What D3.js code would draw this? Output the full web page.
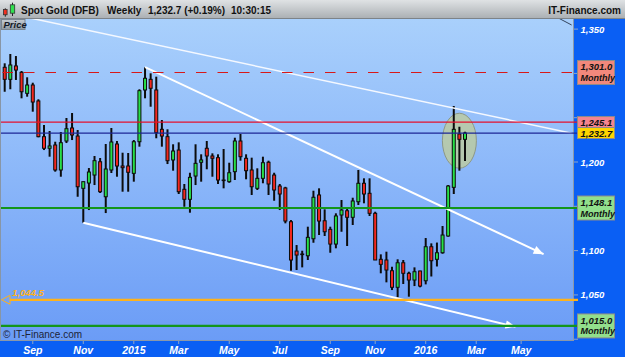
<!DOCTYPE html>
<html>
<head>
<meta charset="utf-8">
<script src="https://cdn.jsdelivr.net/npm/d3@7"></script>
<style>
  html, body { margin: 0; padding: 0; background: #fff; }
  svg { display: block; font-family: "Liberation Sans", Arial, sans-serif; }
</style>
</head>
<body>
<svg id="chart" width="625" height="357"></svg>
<script>
// weekly candles, first bar dated on its Monday
const firstWeek = "2014-07-28";
const opens = [
  1306.9, 1293.3, 1308.4, 1301.2, 1277.5, 1286.9, 1268.9, 1228.6, 1215.5, 1219.2,
  1191.0, 1223.7, 1238.4, 1229.3, 1170.3, 1176.3, 1185.3, 1200.3, 1160.8, 1191.0,
  1220.3, 1195.5, 1195.5, 1187.2, 1222.9, 1281.3, 1293.3, 1281.3, 1236.9, 1228.6,
  1202.3, 1213.5, 1169.2, 1157.9, 1184.2, 1199.7, 1215.5, 1206.8, 1204.9, 1179.7,
  1177.8, 1189.1, 1223.7, 1204.2, 1191.0, 1170.3, 1181.6, 1199.7, 1185.3, 1172.9,
  1170.7, 1132.6, 1099.5, 1096.2, 1094.2, 1113.4, 1162.8, 1133.7, 1124.0, 1107.4,
  1140.2, 1145.0, 1137.6, 1155.2, 1176.0, 1164.7, 1142.1, 1090.2, 1089.4, 1077.3,
  1058.6, 1086.3, 1074.4, 1066.8, 1077.0, 1066.0, 1104.4, 1090.2, 1097.6, 1116.5,
  1171.4, 1231.6, 1225.6
];
const highs = [
  1311.4, 1321.9, 1319.6, 1302.7, 1295.6, 1289.5, 1270.8, 1241.8, 1235.0, 1222.9,
  1233.9, 1249.7, 1255.3, 1236.1, 1177.8, 1193.2, 1206.8, 1204.5, 1220.3, 1238.4,
  1223.7, 1210.5, 1210.2, 1224.8, 1282.1, 1306.9, 1300.1, 1296.3, 1247.4, 1236.9,
  1220.0, 1222.2, 1175.2, 1187.9, 1220.0, 1208.7, 1223.7, 1209.8, 1208.7, 1214.7,
  1199.2, 1227.4, 1231.6, 1208.7, 1204.9, 1192.9, 1206.0, 1201.5, 1187.9, 1175.2,
  1172.0, 1134.5, 1106.3, 1099.9, 1127.0, 1167.6, 1170.3, 1146.6, 1127.0, 1142.1,
  1157.1, 1148.9, 1159.7, 1191.0, 1181.6, 1181.6, 1143.9, 1095.8, 1098.8, 1081.8,
  1090.2, 1089.4, 1076.2, 1081.1, 1077.3, 1114.2, 1108.2, 1109.1, 1127.8, 1174.0,
  1263.2, 1239.8, 1234.2
];
const lows = [
  1279.3, 1282.1, 1292.6, 1271.9, 1273.7, 1256.8, 1227.9, 1213.5, 1206.0, 1189.1,
  1183.4, 1221.4, 1224.8, 1160.8, 1131.5, 1145.8, 1174.0, 1165.0, 1142.4, 1187.6,
  1183.4, 1166.5, 1166.5, 1177.8, 1217.3, 1271.9, 1262.4, 1226.8, 1217.3, 1197.7,
  1190.2, 1163.9, 1149.5, 1142.8, 1174.0, 1177.8, 1191.8, 1183.4, 1175.2, 1170.3,
  1176.6, 1179.7, 1201.5, 1180.5, 1162.8, 1168.4, 1176.0, 1162.8, 1156.3, 1145.8,
  1130.8, 1077.3, 1078.1, 1081.1, 1089.4, 1108.9, 1117.6, 1116.5, 1097.6, 1102.6,
  1121.3, 1105.2, 1128.9, 1151.5, 1153.4, 1139.1, 1089.4, 1074.4, 1064.2, 1055.5,
  1047.3, 1062.3, 1048.0, 1060.0, 1058.6, 1061.9, 1070.8, 1082.1, 1096.5, 1115.7,
  1163.9, 1190.2, 1201.1
];
const closes = [
  1293.3, 1309.5, 1303.8, 1279.3, 1286.9, 1267.7, 1228.6, 1215.5, 1218.1, 1191.0,
  1221.8, 1237.6, 1230.5, 1172.1, 1177.8, 1188.7, 1201.5, 1166.5, 1192.1, 1222.6,
  1195.5, 1193.6, 1188.4, 1222.9, 1280.5, 1294.5, 1283.2, 1233.1, 1229.3, 1201.5,
  1212.4, 1166.5, 1157.9, 1182.7, 1198.5, 1202.3, 1206.8, 1204.2, 1179.7, 1179.1,
  1187.9, 1223.7, 1206.0, 1190.2, 1172.1, 1181.6, 1199.2, 1175.2, 1168.4, 1163.9,
  1133.4, 1089.4, 1095.0, 1095.5, 1115.0, 1160.2, 1133.4, 1121.3, 1107.4, 1139.1,
  1145.8, 1137.6, 1156.0, 1176.0, 1163.9, 1142.1, 1089.4, 1084.5, 1078.1, 1058.6,
  1086.3, 1074.4, 1066.8, 1076.2, 1060.0, 1104.4, 1088.6, 1097.6, 1117.6, 1172.9,
  1236.9, 1225.6, 1232.7
];

// horizontal levels
const levelValues = [1301.0, 1245.1, 1232.7, 1148.1, 1044.5, 1015.0];
const levelTags = ["Monthly", "", "", "Monthly", "", "Monthly"];

// axes
const priceTicks = [1000, 1050, 1100, 1150, 1200, 1250, 1300, 1350];
const monthTicks = ["2014-09-01", "2014-11-03", "2015-01-05", "2015-03-02", "2015-05-04",
  "2015-07-06", "2015-09-07", "2015-11-02", "2016-01-04", "2016-03-07", "2016-05-02"];
const monthLabels = ["Sep", "Nov", "2015", "Mar", "May", "Jul", "Sep", "Nov", "2016", "Mar", "May"];

// drawn trendlines [date, price]
const upperLine = [["2014-06-30", 1374.0], ["2016-07-04", 1232.5]];
const fallLine = [["2015-01-19", 1307.0], ["2016-05-30", 1096.0]];
const supportLine = [["2014-11-03", 1131.5], ["2016-04-25", 1014.0]];
const edgeLine = [["2016-06-06", 1368.0], ["2016-07-04", 1354.6]];
const circled = ["2016-02-15", 1224.0];

const titleParts = ["Spot Gold (DFB)", "Weekly", "1,232.7 (+0.19%)", "10:30:15"];
const siteName = "IT-Finance.com";

const parse = d3.utcParse("%Y-%m-%d");
const W = 625, H = 357;
const plot = { left: 1, right: 573, top: 19, bottom: 341 };

const start = parse(firstWeek);
const weeks = d3.utcMonday.range(start, d3.utcMonday.offset(start, opens.length));
const candles = weeks.map((d, i) => ({ date: d, o: opens[i], h: highs[i], l: lows[i], c: closes[i] }));

const x = d3.scaleUtc()
  .domain([weeks[0], weeks[weeks.length - 1]])
  .range([4.7, 465]);
const y = d3.scaleLinear()
  .domain([998, 1361.4])
  .range([plot.bottom, plot.top]);

const svg = d3.select('#chart');
const defs = svg.append('defs');

const bg = defs.append('linearGradient').attr('id', 'bg').attr('x1', 0).attr('y1', 0).attr('x2', 0).attr('y2', 1);
bg.append('stop').attr('offset', 0).attr('stop-color', '#a9d0fc');
bg.append('stop').attr('offset', 1).attr('stop-color', '#6b9cf6');

const hd = defs.append('linearGradient').attr('id', 'hd').attr('x1', 0).attr('y1', 0).attr('x2', 0).attr('y2', 1);
hd.append('stop').attr('offset', 0).attr('stop-color', '#dfe2e4');
hd.append('stop').attr('offset', 1).attr('stop-color', '#a9aeb2');

const pb = defs.append('linearGradient').attr('id', 'pb').attr('x1', 0).attr('y1', 0).attr('x2', 0).attr('y2', 1);
pb.append('stop').attr('offset', 0).attr('stop-color', '#c6ccd2');
pb.append('stop').attr('offset', 1).attr('stop-color', '#8e99a4');

defs.append('clipPath').attr('id', 'plotClip')
  .append('rect')
  .attr('x', plot.left).attr('y', plot.top)
  .attr('width', plot.right - plot.left).attr('height', plot.bottom - plot.top);

defs.append('clipPath').attr('id', 'axisClip')
  .append('rect')
  .attr('x', plot.right).attr('y', plot.top)
  .attr('width', W - plot.right).attr('height', plot.bottom - plot.top);

// panels
svg.append('rect').attr('width', W).attr('height', H).attr('fill', '#0a5ff4');
svg.append('rect')
  .attr('x', plot.left).attr('y', plot.top)
  .attr('width', plot.right - plot.left).attr('height', plot.bottom - plot.top)
  .attr('fill', 'url(#bg)');
svg.append('rect').attr('x', 0).attr('y', plot.top).attr('width', 1).attr('height', plot.bottom - plot.top).attr('fill', '#8896a6');
svg.append('line')
  .attr('x1', plot.right + 0.5).attr('x2', plot.right + 0.5)
  .attr('y1', plot.top).attr('y2', plot.bottom)
  .attr('stroke', '#8a98aa').attr('stroke-width', 1);
svg.append('line')
  .attr('x1', 0).attr('x2', plot.right)
  .attr('y1', plot.bottom - 0.5).attr('y2', plot.bottom - 0.5)
  .attr('stroke', '#8a98aa').attr('stroke-width', 1);

// header
svg.append('rect').attr('width', W).attr('height', plot.top).attr('fill', 'url(#hd)');
svg.append('line').attr('x1', 0).attr('x2', W).attr('y1', plot.top - 0.5).attr('y2', plot.top - 0.5)
  .attr('stroke', '#7d8388');
const icon = svg.append('g');
icon.append('line').attr('x1', 5.3).attr('x2', 5.3).attr('y1', 8.3).attr('y2', 16.7).attr('stroke', '#222').attr('stroke-width', 1);
icon.append('rect').attr('x', 3.5).attr('y', 9.5).attr('width', 3.6).attr('height', 5.3)
  .attr('fill', '#f03020').attr('stroke', '#333').attr('stroke-width', 0.8);
icon.append('line').attr('x1', 12.5).attr('x2', 12.5).attr('y1', 2.7).attr('y2', 16).attr('stroke', '#222').attr('stroke-width', 1);
icon.append('rect').attr('x', 10.3).attr('y', 4.8).attr('width', 4.4).attr('height', 8.4)
  .attr('fill', '#30e050').attr('stroke', '#333').attr('stroke-width', 0.8);

const titleX = [21, 107, 148, 231];
svg.append('g').selectAll('text')
  .data(titleParts)
  .join('text')
  .attr('x', (d, i) => titleX[i])
  .attr('y', 13.5)
  .attr('font-size', 10)
  .attr('font-weight', 'bold')
  .attr('fill', '#111')
  .text(d => d);
svg.append('text')
  .attr('x', 621).attr('y', 13.5)
  .attr('text-anchor', 'end')
  .attr('font-size', 10).attr('font-weight', 'bold').attr('fill', '#111')
  .text(siteName);

// plot content
const g = svg.append('g').attr('clip-path', 'url(#plotClip)');

g.append('ellipse')
  .attr('cx', x(parse(circled[0])))
  .attr('cy', y(circled[1]))
  .attr('rx', 17).attr('ry', 27.5)
  .attr('fill', '#b9caa6').attr('fill-opacity', 0.9)
  .attr('stroke', '#8d9886').attr('stroke-width', 1);

// candles
const bodyW = 3;
const cg = g.append('g');
cg.selectAll('line.wick')
  .data(candles)
  .join('line')
  .attr('class', 'wick')
  .attr('x1', d => x(d.date)).attr('x2', d => x(d.date))
  .attr('y1', d => y(d.h)).attr('y2', d => y(d.l))
  .attr('stroke', '#0c0c0c').attr('stroke-width', 2);
cg.selectAll('rect.body')
  .data(candles)
  .join('rect')
  .attr('class', 'body')
  .attr('x', d => x(d.date) - bodyW / 2)
  .attr('y', d => y(Math.max(d.o, d.c)))
  .attr('width', bodyW)
  .attr('height', d => Math.max(0.6, Math.abs(y(d.o) - y(d.c))))
  .attr('fill', d => d.c >= d.o ? '#27e048' : '#f4281e')
  .attr('stroke', '#0c0c0c').attr('stroke-width', 1);

// horizontal levels
const levelStyle = [
  { color: '#d81818', width: 1.1, dash: '10.5,11' },
  { color: '#e5102c', width: 1.3 },
  { color: '#1d2696', width: 1.3 },
  { color: '#13961a', width: 2.2 },
  { color: '#ffb21a', width: 2.2 },
  { color: '#13961a', width: 2.2 }
];
levelValues.forEach((v, i) => {
  const st = levelStyle[i];
  svg.append('line')
    .attr('x1', i === 4 ? 10 : plot.left).attr('x2', plot.right + 5)
    .attr('y1', y(v)).attr('y2', y(v))
    .attr('stroke', st.color).attr('stroke-width', st.width)
    .attr('stroke-dasharray', st.dash || null)
    .attr('stroke-dashoffset', st.dash ? 20 : null);
});

// trendlines
function trend(pts, color, width, arrow) {
  const p = pts.map(d => [x(parse(d[0])), y(d[1])]);
  g.append('line')
    .attr('x1', p[0][0]).attr('y1', p[0][1])
    .attr('x2', p[1][0]).attr('y2', p[1][1])
    .attr('stroke', color).attr('stroke-width', width);
  if (arrow) {
    const a = Math.atan2(p[1][1] - p[0][1], p[1][0] - p[0][0]);
    const len = 10, half = 4.2;
    const tip = p[1];
    const bx = tip[0] - len * Math.cos(a), by = tip[1] - len * Math.sin(a);
    g.append('path')
      .attr('d', `M${tip[0]},${tip[1]}L${bx + half * Math.sin(a)},${by - half * Math.cos(a)}L${bx - half * Math.sin(a)},${by + half * Math.cos(a)}Z`)
      .attr('fill', '#ffffff');
  }
}
trend(upperLine, '#f4f8ff', 1.5, false);
trend(fallLine, '#ffffff', 2, true);
trend(supportLine, '#ffffff', 2, true);
trend(edgeLine, '#34445c', 1, false);

// left tag for 1,044.5
const orangeY = y(levelValues[4]);
svg.append('path')
  .attr('d', `M1.5,${orangeY}L10,${orangeY - 4.5}L10,${orangeY + 4.5}Z`)
  .attr('fill', 'none').attr('stroke', '#ffb21a').attr('stroke-width', 1);
svg.append('text')
  .attr('x', 12).attr('y', orangeY - 3.5)
  .attr('font-size', 9.5).attr('font-style', 'italic').attr('font-weight', 'bold')
  .attr('fill', '#ffb21a')
  .text(d3.format(',.1f')(levelValues[4]));

// copyright
svg.append('text')
  .attr('x', 3).attr('y', 337.5)
  .attr('font-size', 10).attr('fill', '#1c2438')
  .text('\u00a9 ' + siteName);

// Price label box
svg.append('rect')
  .attr('x', 1.5).attr('y', plot.top + 0.5).attr('width', 23.5).attr('height', 10)
  .attr('fill', 'url(#pb)').attr('stroke', '#7a8590').attr('stroke-width', 1);
svg.append('text')
  .attr('x', 3.5).attr('y', 28)
  .attr('font-size', 9.5).attr('font-style', 'italic').attr('font-weight', 'bold')
  .attr('fill', '#141a26')
  .text('Price');

// level tag boxes geometry (used to keep covered tick labels out)
const tagFill = ['#f2887c', '#f5848f', '#ffd500', '#92df8c', null, '#92df8c'];
const tagBoxes = levelValues.map((v, i) => {
  if (!tagFill[i]) return null;
  const h = levelTags[i] !== '' ? 24 : 11;
  return { v, i, h, top: y(v) - h / 2, bottom: y(v) + h / 2 };
}).filter(Boolean);
const covered = t => tagBoxes.some(b => y(t) + 4 > b.top - 2 && y(t) - 4 < b.bottom + 2);

// right axis
const ra = svg.append('g').attr('clip-path', 'url(#axisClip)');
ra.selectAll('line.tick')
  .data(priceTicks)
  .join('line')
  .attr('class', 'tick')
  .attr('x1', plot.right + 1).attr('x2', plot.right + 5)
  .attr('y1', d => y(d)).attr('y2', d => y(d))
  .attr('stroke', '#8fa6c8').attr('stroke-width', 1);
ra.selectAll('text.tl')
  .data(priceTicks.filter(t => !covered(t)))
  .join('text')
  .attr('class', 'tl')
  .attr('x', 580.5)
  .attr('y', d => y(d) + 3.5)
  .attr('font-size', 9.5).attr('font-style', 'italic').attr('font-weight', 'bold')
  .attr('fill', '#ffffff')
  .text(d => d3.format(',')(d));

tagBoxes.forEach(b => {
  const two = levelTags[b.i] !== '';
  const cy = y(b.v);
  svg.append('rect')
    .attr('x', 577.5).attr('y', b.top)
    .attr('width', 37).attr('height', b.h)
    .attr('fill', tagFill[b.i]).attr('stroke', '#8c8c8c').attr('stroke-width', 1);
  svg.append('text')
    .attr('x', 580.5).attr('y', two ? cy - 2.3 : cy + 3.6)
    .attr('font-size', 9.5).attr('font-style', 'italic').attr('font-weight', 'bold')
    .attr('fill', '#111')
    .text(d3.format(',.1f')(b.v));
  if (two) {
    svg.append('text')
      .attr('x', 580.5).attr('y', cy + 8.5)
      .attr('font-size', 9).attr('font-style', 'italic').attr('font-weight', 'bold')
      .attr('fill', '#111')
      .text(levelTags[b.i]);
  }
});

// bottom axis
const bx = svg.append('g');
bx.selectAll('line')
  .data(monthTicks)
  .join('line')
  .attr('x1', d => x(parse(d))).attr('x2', d => x(parse(d)))
  .attr('y1', plot.bottom).attr('y2', plot.bottom + 3)
  .attr('stroke', '#8fa6c8');
bx.selectAll('text')
  .data(monthTicks)
  .join('text')
  .attr('x', d => x(parse(d)))
  .attr('y', 354)
  .attr('text-anchor', 'middle')
  .attr('font-size', 10.5).attr('font-style', 'italic').attr('font-weight', 'bold')
  .attr('fill', '#ffffff')
  .text((d, i) => monthLabels[i]);
</script>
</body>
</html>
